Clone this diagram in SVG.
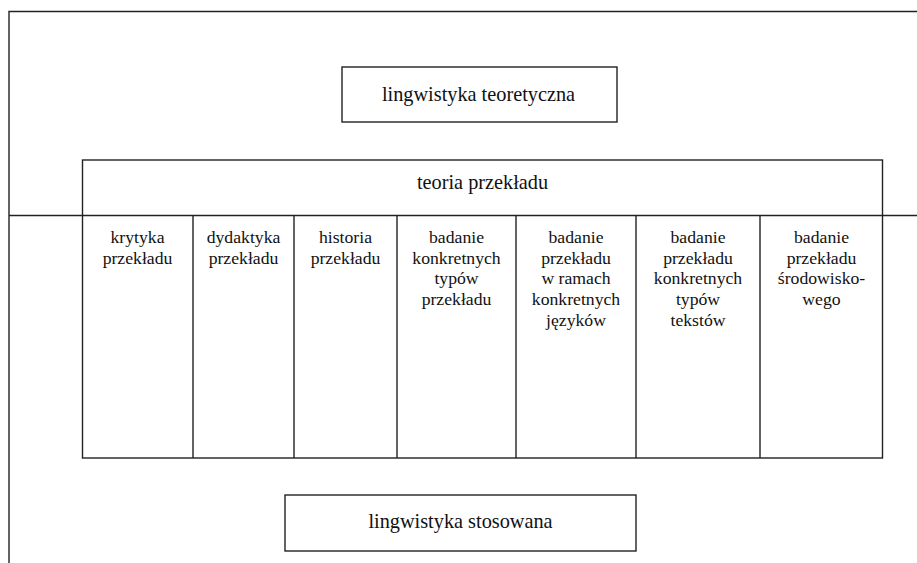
<svg xmlns="http://www.w3.org/2000/svg" width="917" height="563" viewBox="0 0 917 563">
<style>
.b{fill:none;stroke:#222;stroke-width:1.4}
text{font-family:'Liberation Serif','Times New Roman','DejaVu Serif',serif;fill:#111;text-anchor:middle}
.c{font-size:17.7px}
.h{font-size:20.3px}
</style>
<rect width="917" height="563" fill="#fff"/>
<g id="frame">
<path class="b" d="M9,563 V11.5 H917"/>
<path class="b" d="M9,215.5 H917"/>
</g>
<g id="lingwistyka-teoretyczna">
<rect class="b" x="342" y="67" width="275" height="55"/>
<text class="h" x="478.5" y="101">lingwistyka teoretyczna</text>
</g>
<g id="teoria-przekladu">
<rect class="b" x="82.5" y="160" width="800" height="298"/>
<text class="h" x="482.5" y="189">teoria przekładu</text>
</g>
<g id="connectors">
<path class="b" d="M193,215.5 V458 M294,215.5 V458 M397,215.5 V458 M516,215.5 V458 M636,215.5 V458 M760,215.5 V458"/>
</g>
<g id="col1"><text class="c" x="137.5" y="243">krytyka<tspan x="137.5" dy="20.7">przekładu</tspan></text></g>
<g id="col2"><text class="c" x="243.5" y="243">dydaktyka<tspan x="243.5" dy="20.7">przekładu</tspan></text></g>
<g id="col3"><text class="c" x="345.5" y="243">historia<tspan x="345.5" dy="20.7">przekładu</tspan></text></g>
<g id="col4"><text class="c" x="456.5" y="243">badanie<tspan x="456.5" dy="20.7">konkretnych</tspan><tspan x="456.5" dy="20.7">typów</tspan><tspan x="456.5" dy="20.7">przekładu</tspan></text></g>
<g id="col5"><text class="c" x="576" y="243">badanie<tspan x="576" dy="20.7">przekładu</tspan><tspan x="576" dy="20.7">w ramach</tspan><tspan x="576" dy="20.7">konkretnych</tspan><tspan x="576" dy="20.7">języków</tspan></text></g>
<g id="col6"><text class="c" x="698" y="243">badanie<tspan x="698" dy="20.7">przekładu</tspan><tspan x="698" dy="20.7">konkretnych</tspan><tspan x="698" dy="20.7">typów</tspan><tspan x="698" dy="20.7">tekstów</tspan></text></g>
<g id="col7"><text class="c" x="821.5" y="243">badanie<tspan x="821.5" dy="20.7">przekładu</tspan><tspan x="821.5" dy="20.7">środowisko-</tspan><tspan x="821.5" dy="20.7">wego</tspan></text></g>
<g id="lingwistyka-stosowana">
<rect class="b" x="285" y="495" width="351" height="56"/>
<text class="h" x="460.5" y="528">lingwistyka stosowana</text>
</g>
</svg>
